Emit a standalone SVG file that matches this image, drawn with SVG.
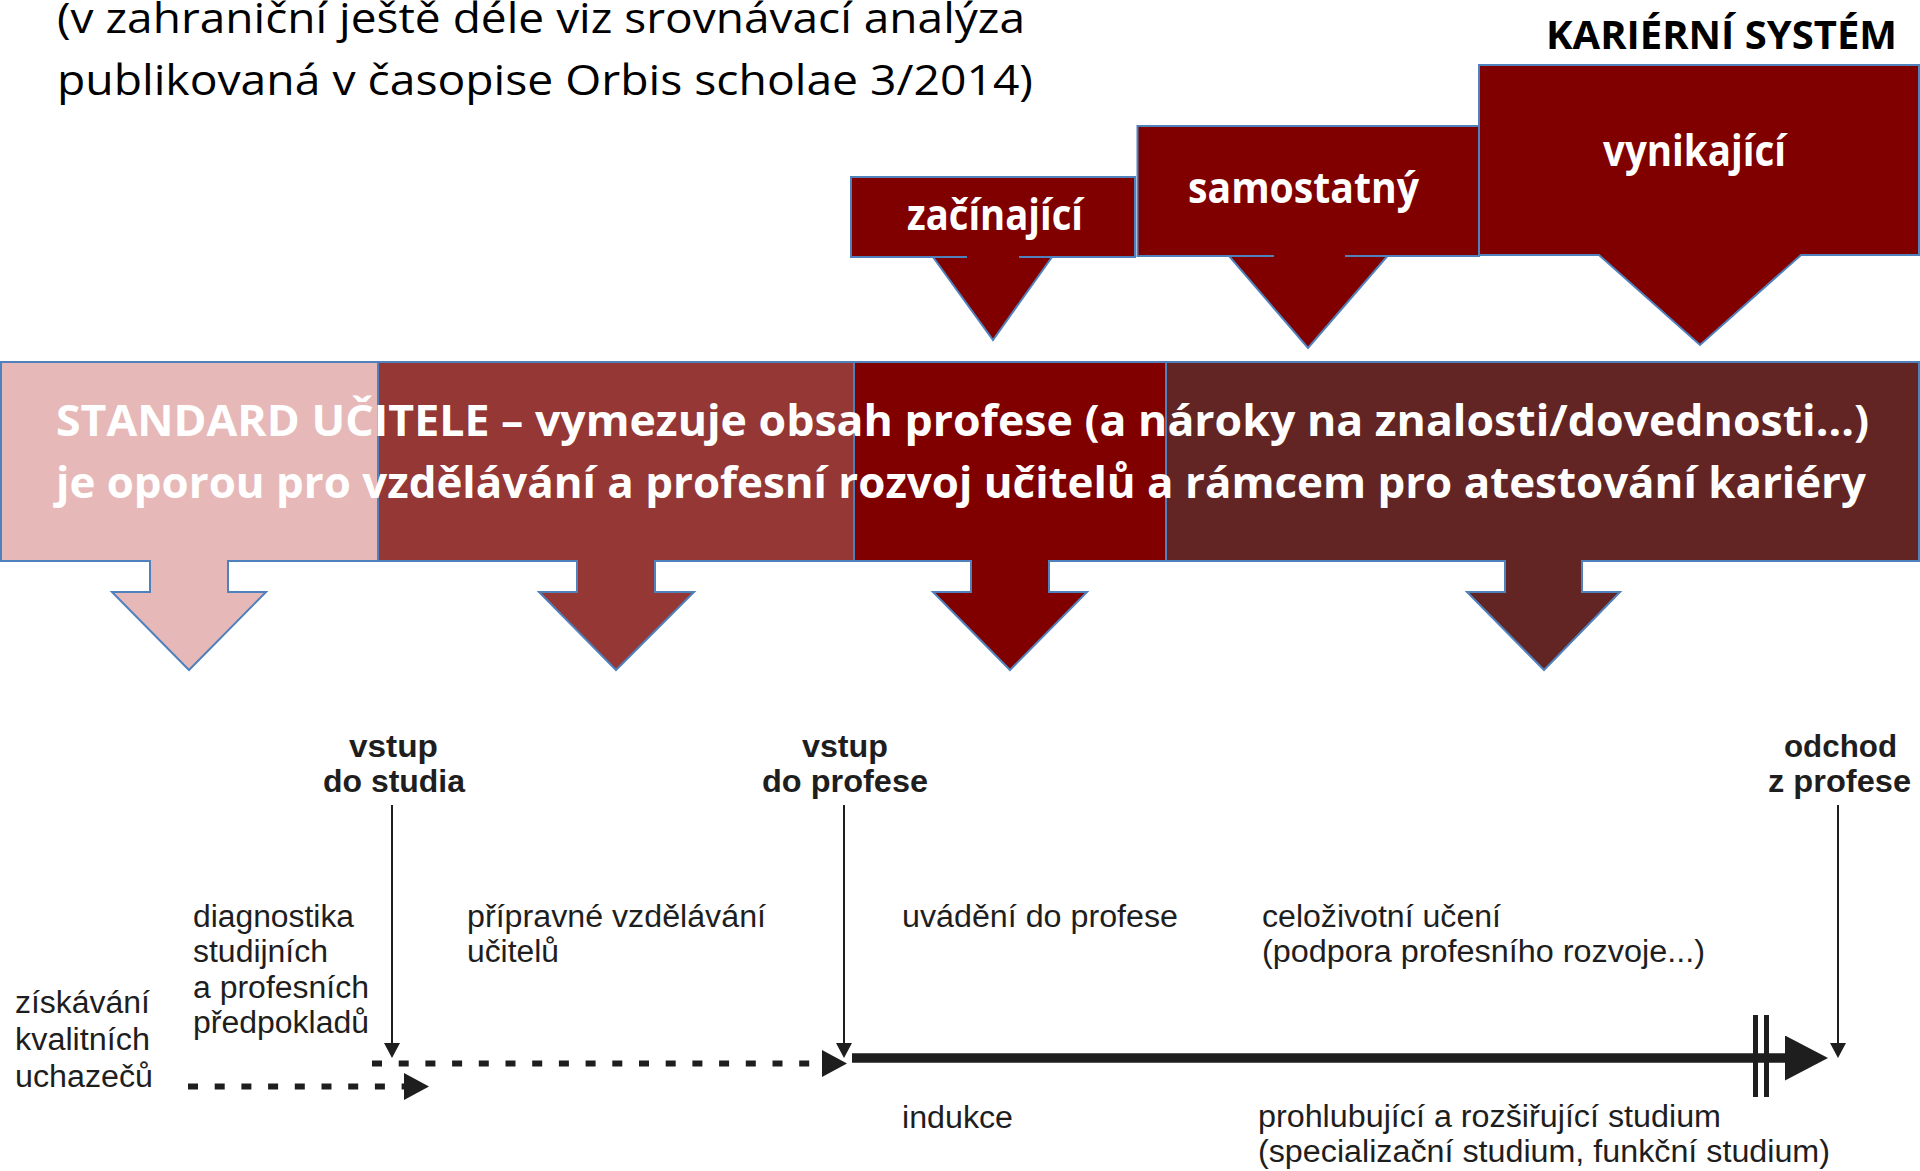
<svg xmlns="http://www.w3.org/2000/svg" width="1920" height="1171" viewBox="0 0 1920 1171">
<defs>
<style>
.shape{stroke:#4F81BD;stroke-width:2;stroke-linejoin:miter}
.c1{fill:#E6B9B8}.c2{fill:#953735}.c3{fill:#800000}.c4{fill:#632523}
.cal{font-family:"Open Sans","Liberation Sans",sans-serif}
.wb{font-family:"Open Sans","Liberation Sans",sans-serif;font-weight:bold;fill:#FFFFFF}
.bl{font-family:"Liberation Sans",Arial,sans-serif;font-size:31px;fill:#1E1E1E}
.blb{font-family:"Liberation Sans",Arial,sans-serif;font-size:32px;font-weight:bold;fill:#1E1E1E}
.thin{stroke:#1E1E1E;stroke-width:2;fill:none}
.dot{stroke:#1E1E1E;stroke-width:6;fill:none;stroke-dasharray:10 16.7}
</style>
<marker id="hThin" markerUnits="userSpaceOnUse" viewBox="0 0 15 16" refX="0" refY="8" markerWidth="15" markerHeight="16" orient="auto"><path d="M0,0 L15,8 L0,16 Z" fill="#1E1E1E"/></marker>
<marker id="hDot" markerUnits="userSpaceOnUse" viewBox="0 0 25 27" refX="0" refY="13.5" markerWidth="25" markerHeight="27" orient="auto"><path d="M0,0 L25,13.5 L0,27 Z" fill="#1E1E1E"/></marker>
<marker id="hThick" markerUnits="userSpaceOnUse" viewBox="0 0 43 45" refX="0" refY="22.5" markerWidth="43" markerHeight="45" orient="auto"><path d="M0,0 L43,22.5 L0,45 Z" fill="#1E1E1E"/></marker>
</defs>
<rect width="1920" height="1171" fill="#FFFFFF"/>

<g id="title">
<text class="cal" x="57" y="33" font-size="42" fill="#000" textLength="968" lengthAdjust="spacingAndGlyphs">(v zahraniční ještě déle viz srovnávací analýza</text>
<text class="cal" x="57" y="95" font-size="42" fill="#000" textLength="976" lengthAdjust="spacingAndGlyphs">publikovaná v časopise Orbis scholae 3/2014)</text>
</g>
<g id="kariera-title">
<text class="cal" x="1546" y="49" font-size="39" font-weight="bold" fill="#000" textLength="351" lengthAdjust="spacingAndGlyphs">KARIÉRNÍ SYSTÉM</text>
</g>

<g id="zacinajici">
<path class="shape c3" d="M851,177 H1135 V257 H1019 L1052,257 L993,340 L933,257 L967,257 H851 Z"/>
<text class="wb" x="907" y="230" font-size="43" textLength="176" lengthAdjust="spacingAndGlyphs">začínající</text>
</g>
<g id="samostatny">
<path class="shape c3" d="M1137.5,126 H1479 V256 H1345 L1387.5,256 L1308,348 L1229,256 L1274,256 H1137.5 Z"/>
<text class="wb" x="1188" y="203" font-size="43" textLength="231" lengthAdjust="spacingAndGlyphs">samostatný</text>
</g>
<g id="vynikajici">
<path class="shape c3" d="M1479,65 H1919 V255 H1801 L1700,345 L1599,255 H1479 Z"/>
<text class="wb" x="1603" y="166" font-size="43" textLength="183" lengthAdjust="spacingAndGlyphs">vynikající</text>
</g>

<g id="standard">
<path class="shape c1" d="M1,362 H378 V561 H228 V592 H266 L189,670 L112,592 H150 V561 H1 Z"/>
<path class="shape c2" d="M378,362 H854 V561 H655 V592 H694 L616,670 L539,592 H577 V561 H378 Z"/>
<path class="shape c3" d="M854,362 H1166 V561 H1049 V592 H1087 L1010,670 L933,592 H971 V561 H854 Z"/>
<path class="shape c4" d="M1166,362 H1919 V561 H1582 V592 H1620 L1544,670 L1467,592 H1505 V561 H1166 Z"/>
<text class="wb" x="56" y="436" font-size="43" textLength="1813" lengthAdjust="spacingAndGlyphs">STANDARD UČITELE – vymezuje obsah profese (a nároky na znalosti/dovednosti...)</text>
<text class="wb" x="56" y="498" font-size="43" textLength="1810" lengthAdjust="spacingAndGlyphs">je oporou pro vzdělávání a profesní rozvoj učitelů a rámcem pro atestování kariéry</text>
</g>

<g id="vstup-studium">
<text class="blb" x="349" y="757" textLength="89" lengthAdjust="spacingAndGlyphs">vstup</text>
<text class="blb" x="323" y="792" textLength="142" lengthAdjust="spacingAndGlyphs">do studia</text>
</g>
<g id="vstup-profese">
<text class="blb" x="802" y="757" textLength="86" lengthAdjust="spacingAndGlyphs">vstup</text>
<text class="blb" x="762" y="792" textLength="166" lengthAdjust="spacingAndGlyphs">do profese</text>
</g>
<g id="odchod">
<text class="blb" x="1784" y="757" textLength="113" lengthAdjust="spacingAndGlyphs">odchod</text>
<text class="blb" x="1768" y="792" textLength="143" lengthAdjust="spacingAndGlyphs">z profese</text>
</g>

<g id="ziskavani">
<text class="bl" x="15" y="1013" textLength="135" lengthAdjust="spacingAndGlyphs">získávání</text>
<text class="bl" x="15" y="1050" textLength="135" lengthAdjust="spacingAndGlyphs">kvalitních</text>
<text class="bl" x="15" y="1087" textLength="138" lengthAdjust="spacingAndGlyphs">uchazečů</text>
</g>
<g id="diagnostika">
<text class="bl" x="193" y="927" textLength="161" lengthAdjust="spacingAndGlyphs">diagnostika</text>
<text class="bl" x="193" y="962" textLength="135" lengthAdjust="spacingAndGlyphs">studijních</text>
<text class="bl" x="193" y="998" textLength="176" lengthAdjust="spacingAndGlyphs">a profesních</text>
<text class="bl" x="193" y="1033" textLength="176" lengthAdjust="spacingAndGlyphs">předpokladů</text>
</g>
<g id="pripravne">
<text class="bl" x="467" y="927" textLength="299" lengthAdjust="spacingAndGlyphs">přípravné vzdělávání</text>
<text class="bl" x="467" y="962" textLength="92" lengthAdjust="spacingAndGlyphs">učitelů</text>
</g>
<g id="uvadeni">
<text class="bl" x="902" y="927" textLength="276" lengthAdjust="spacingAndGlyphs">uvádění do profese</text>
</g>
<g id="indukce">
<text class="bl" x="902" y="1128" textLength="111" lengthAdjust="spacingAndGlyphs">indukce</text>
</g>
<g id="celozivotni">
<text class="bl" x="1262" y="927" textLength="239" lengthAdjust="spacingAndGlyphs">celoživotní učení</text>
<text class="bl" x="1262" y="962" textLength="443" lengthAdjust="spacingAndGlyphs">(podpora profesního rozvoje...)</text>
</g>
<g id="prohlubujici">
<text class="bl" x="1258" y="1127" textLength="463" lengthAdjust="spacingAndGlyphs">prohlubující a rozšiřující studium</text>
<text class="bl" x="1258" y="1162" textLength="572" lengthAdjust="spacingAndGlyphs">(specializační studium, funkční studium)</text>
</g>

<g id="connectors">
<line class="thin" x1="392" y1="805" x2="392" y2="1043" marker-end="url(#hThin)"/>
<line class="thin" x1="844" y1="805" x2="844" y2="1043" marker-end="url(#hThin)"/>
<line class="thin" x1="1838" y1="805" x2="1838" y2="1043" marker-end="url(#hThin)"/>
<line class="dot" x1="188" y1="1086.5" x2="404" y2="1086.5" marker-end="url(#hDot)"/>
<line class="dot" x1="372" y1="1063.5" x2="822" y2="1063.5" marker-end="url(#hDot)"/>
<line x1="852" y1="1058" x2="1785" y2="1058" stroke="#1E1E1E" stroke-width="9.5" marker-end="url(#hThick)"/>
<rect x="1753" y="1015" width="5" height="82" fill="#1E1E1E"/>
<rect x="1764" y="1015" width="5" height="82" fill="#1E1E1E"/>
</g>
</svg>
